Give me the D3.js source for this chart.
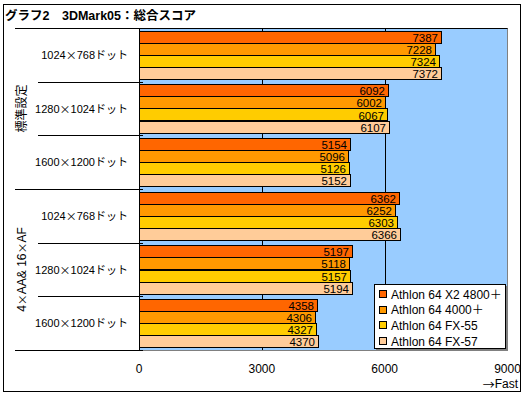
<!DOCTYPE html>
<html><head><meta charset="utf-8">
<script src="https://cdn.jsdelivr.net/npm/d3@7"></script>
<style>
html,body{margin:0;padding:0;background:#fff;}
</style></head>
<body><svg id="c" width="527" height="397"></svg>
<script>
const title = "グラフ2　3DMark05：総合スコア";
const categories = ["1024×768ドット","1280×1024ドット","1600×1200ドット","1024×768ドット","1280×1024ドット","1600×1200ドット"];
const groups = ["標準設定","4×AA& 16×AF"];
const groupOf = [0,0,0,1,1,1];
const series = ["Athlon 64 X2 4800＋","Athlon 64 4000＋","Athlon 64 FX-55","Athlon 64 FX-57"];
const colors = ["#FF6600","#FF9900","#FFCC00","#FFCC99"];
const s1 = [7387,6092,5154,6362,5197,4358];
const s2 = [7228,6002,5096,6252,5118,4306];
const s3 = [7324,6067,5126,6303,5157,4327];
const s4 = [7372,6107,5152,6366,5194,4370];
const seriesValues = [s1,s2,s3,s4];
const ticks = [0,3000,6000,9000];
const axisNote = "→Fast";

const FONT = "'Liberation Sans','Noto Sans CJK JP','Noto Sans CJK SC',sans-serif";
const CJK = "'Noto Sans CJK JP','Noto Sans CJK SC','DejaVu Sans',sans-serif";
const svg = d3.select("#c").attr("font-family",FONT);
const X0 = 139, X1 = 507.5, Y0 = 28, Y1 = 350;
const x = d3.scaleLinear().domain([0,9000]).range([X0,X1]);
const y = d3.scaleBand().domain(d3.range(categories.length)).range([Y0,Y1]).padding(0);
const yi = d3.scaleBand().domain(d3.range(series.length)).range([0,y.bandwidth()]).paddingInner(0).paddingOuter(0.236);

// helper: render "×" / "→" as wide glyphs
function wideText(sel, str, sz){
  const parts = str.split(/([×→])/).filter(p=>p.length);
  parts.forEach(p=>{
    if (p==="×" || p==="→") sel.append("tspan").attr("font-family",CJK).attr("font-size",sz).text(p);
    else sel.append("tspan").text(p);
  });
}

// outer frame
svg.append("rect").attr("x",3.5).attr("y",4.5).attr("width",517).attr("height",387)
  .attr("fill","#fff").attr("stroke","#000").attr("stroke-width",1);

// title
svg.append("text").attr("x",5).attr("y",16).attr("dominant-baseline","central")
  .attr("font-size",12.5).attr("font-weight","bold").text(title);

// plot area
svg.append("rect").attr("x",X0).attr("y",Y0).attr("width",X1-X0).attr("height",Y1-Y0)
  .attr("fill","#99CCFF").attr("stroke","#808080").attr("shape-rendering","crispEdges");

// gridlines
svg.append("g").selectAll("line").data(ticks.filter(t=>t>0 && t<9000)).join("line")
  .attr("x1",d=>Math.round(x(d))+0.5).attr("x2",d=>Math.round(x(d))+0.5)
  .attr("y1",Y0).attr("y2",Y1).attr("stroke","#000");

// top line
svg.append("line").attr("x1",X0).attr("x2",X1).attr("y1",Y0+0.5).attr("y2",Y0+0.5).attr("stroke","#000");

// bars
const gBars = svg.append("g");
seriesValues.forEach((vals,si)=>{
  gBars.selectAll(null).data(vals).join("rect")
    .attr("x",X0+0.5)
    .attr("y",(d,i)=>Math.round(y(i)+yi(si))+0.5)
    .attr("width",d=>Math.round(x(d)-X0))
    .attr("height",Math.round(yi.bandwidth()))
    .attr("fill",colors[si]).attr("stroke","#000");
  gBars.selectAll(null).data(vals).join("text")
    .attr("x",d=>Math.round(x(d))-3)
    .attr("y",(d,i)=>y(i)+yi(si)+yi.bandwidth()/2+1)
    .attr("text-anchor","end").attr("dominant-baseline","central")
    .attr("font-size",11.5).text(d=>d);
});

// left axis line
svg.append("line").attr("x1",X0+0.5).attr("x2",X0+0.5).attr("y1",Y0).attr("y2",Y1).attr("stroke","#000");

// category separators
const bounds = d3.range(categories.length+1);
svg.append("g").selectAll("line").data(bounds).join("line")
  .attr("x1",d=> (d%3===0) ? 15 : 38).attr("x2",X0+4)
  .attr("y1",d=>Math.round(d<categories.length? y(d): Y1)+0.5)
  .attr("y2",d=>Math.round(d<categories.length? y(d): Y1)+0.5)
  .attr("stroke","#000");

// category labels
svg.append("g").selectAll("text").data(categories).join("text")
  .attr("x",128).attr("y",(d,i)=>y(i)+y.bandwidth()/2)
  .attr("text-anchor","end").attr("dominant-baseline","central")
  .attr("font-size",11)
  .each(function(d){ wideText(d3.select(this), d, 11); });

// group labels
groups.forEach((g,gi)=>{
  const idx = d3.range(categories.length).filter(i=>groupOf[i]===gi);
  const cy = (y(idx[0]) + y(idx[idx.length-1]) + y.bandwidth())/2;
  const t = svg.append("text").attr("transform",`translate(22,${cy}) rotate(-90)`)
    .attr("text-anchor","middle").attr("dominant-baseline","central")
    .attr("font-size",12);
  wideText(t, g, 11);
});

// x tick labels
svg.append("g").selectAll("text").data(ticks).join("text")
  .attr("x",d=>x(d)).attr("y",369).attr("text-anchor","middle").attr("dominant-baseline","central")
  .attr("font-size",12).text(d=>d);
const note = svg.append("text").attr("x",518).attr("y",384).attr("text-anchor","end").attr("dominant-baseline","central")
  .attr("font-size",12);
wideText(note, axisNote, 12);

// legend
const LX = 374.5, LY = 284.5, LW = 131, LH = 64;
svg.append("rect").attr("x",LX+1.5).attr("y",LY+1.5).attr("width",LW).attr("height",LH).attr("fill","#808080");
svg.append("rect").attr("x",LX).attr("y",LY).attr("width",LW).attr("height",LH).attr("fill","#fff").attr("stroke","#000");
const ly = d3.scalePoint().domain(d3.range(series.length)).range([294,341]);
const lg = svg.append("g").selectAll("g").data(series).join("g");
lg.append("rect").attr("x",379.5).attr("y",(d,i)=>Math.round(ly(i))-3.5).attr("width",7).attr("height",7)
  .attr("fill",(d,i)=>colors[i]).attr("stroke","#000");
lg.append("text").attr("x",391).attr("y",(d,i)=>ly(i)+0.5).attr("dominant-baseline","central")
  .attr("font-size",12).text(d=>d);
</script></body></html>
